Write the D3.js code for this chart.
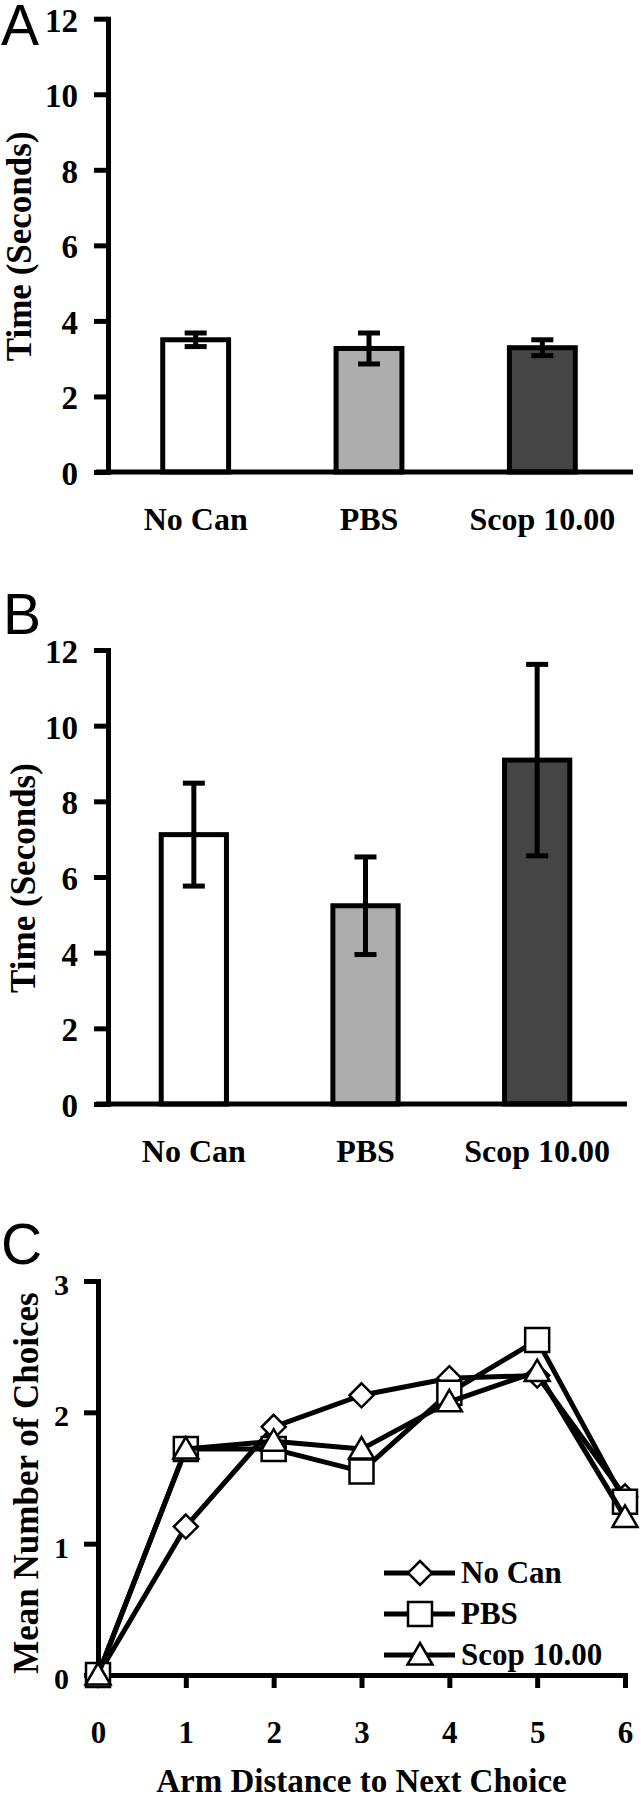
<!DOCTYPE html>
<html>
<head>
<meta charset="utf-8">
<script src="https://cdn.jsdelivr.net/npm/d3@7"></script>
<style>
	body { margin: 0; background: #fff; }
	svg text { font-family: "Liberation Serif", "Times New Roman", serif; font-weight: bold; fill: #000; }
	svg text.panelLetter { font-family: "Liberation Sans", Arial, sans-serif; font-weight: normal; }
</style>
</head>
<body>
<script>

var groups = ["No Can", "PBS", "Scop 10.00"];
var timeA = [3.5, 3.27, 3.29];
var semA = [0.18, 0.41, 0.21];
var timeB = [7.12, 5.24, 9.09];
var semB = [1.36, 1.29, 2.53];
var barTicks = [0, 2, 4, 6, 8, 10, 12];
var barFills = ["#ffffff", "#adadad", "#454545"];

var armDistance = [0, 1, 2, 3, 4, 5, 6];
var noCan = [0, 1.13, 1.89, 2.13, 2.26, 2.28, 1.36];
var pbs = [0, 1.72, 1.72, 1.55, 2.15, 2.55, 1.32];
var scop = [0, 1.72, 1.78, 1.72, 2.08, 2.31, 1.2];
var choiceTicks = [0, 1, 2, 3];
var seriesNames = ["No Can", "PBS", "Scop 10.00"];
var seriesShapes = ["diamond", "square", "triangle"];


var svg = d3.select("body").append("svg")
	.attr("width", 641)
	.attr("height", 1800);


var styleAxis = function(ax, fontSize)
{
	ax.selectAll(".domain")
	.attr("stroke", "#000")
	.attr("stroke-width", 5)
	.attr("stroke-linecap", "square");

	ax.selectAll(".tick line")
	.attr("stroke", "#000")
	.attr("stroke-width", 5);

	ax.selectAll(".tick text")
	.attr("font-size", fontSize)
	.attr("fill", "#000");
}


var barPanel = function(cfg)
{
	var g = svg.append("g");

	var x = d3.scaleBand()
	.domain(groups)
	.range(cfg.xRange)
	.paddingInner(0.62)
	.paddingOuter(0.31);

	var y = d3.scaleLinear()
	.domain([0, 12])
	.range(cfg.yRange);

	var ax = g.append("g")
	.attr("transform", "translate(" + cfg.axisX + ",0)")
	.call(d3.axisLeft(y).tickValues(barTicks).tickSize(14).tickSizeOuter(0).tickPadding(16));
	styleAxis(ax, 33);
	ax.selectAll(".tick text").attr("dy", "0.38em");

	g.selectAll("rect.bar")
	.data(groups)
	.enter().append("rect")
	.attr("class", "bar")
	.attr("x", function(d) { return x(d); })
	.attr("width", x.bandwidth())
	.attr("y", function(d, i) { return y(cfg.values[i]); })
	.attr("height", function(d, i) { return y(0) - y(cfg.values[i]); })
	.attr("fill", function(d, i) { return barFills[i]; })
	.attr("stroke", "#000")
	.attr("stroke-width", 5);

	// error bars drawn over the bars
	var err = g.selectAll("g.err")
	.data(groups)
	.enter().append("g")
	.attr("class", "err")
	.attr("stroke", "#000")
	.attr("stroke-width", 5);

	err.append("line")
	.attr("x1", function(d) { return x(d) + x.bandwidth() / 2; })
	.attr("x2", function(d) { return x(d) + x.bandwidth() / 2; })
	.attr("y1", function(d, i) { return y(cfg.values[i] + cfg.sem[i]); })
	.attr("y2", function(d, i) { return y(cfg.values[i] - cfg.sem[i]); });

	[1, -1].forEach(function(sign)
	{
		err.append("line")
		.attr("x1", function(d) { return x(d) + x.bandwidth() / 2 - 11; })
		.attr("x2", function(d) { return x(d) + x.bandwidth() / 2 + 11; })
		.attr("y1", function(d, i) { return y(cfg.values[i] + sign * cfg.sem[i]); })
		.attr("y2", function(d, i) { return y(cfg.values[i] + sign * cfg.sem[i]); });
	});

	g.append("line")
	.attr("x1", cfg.axisX - 12)
	.attr("x2", cfg.xRange[1] + 4)
	.attr("y1", y(0))
	.attr("y2", y(0))
	.attr("stroke", "#000")
	.attr("stroke-width", 5);

	g.selectAll("text.cat")
	.data(groups)
	.enter().append("text")
	.attr("class", "cat")
	.attr("x", function(d) { return x(d) + x.bandwidth() / 2; })
	.attr("y", y(0) + 58)
	.attr("text-anchor", "middle")
	.attr("font-size", 32)
	.text(function(d) { return d; });

	g.append("text")
	.attr("transform", "translate(" + cfg.titleX + "," + ((y(0) + y(12)) / 2 + 1) + ") rotate(-90)")
	.attr("text-anchor", "middle")
	.attr("font-size", 35)
	.text("Time (Seconds)");

	g.append("text")
	.attr("class", "panelLetter")
	.attr("x", cfg.letter[1])
	.attr("y", cfg.letter[2])
	.attr("font-size", 57)
	.text(cfg.letter[0]);
}


barPanel({ xRange: [109, 629], yRange: [472, 18.7], axisX: 108, values: timeA, sem: semA, titleX: 31, letter: ["A", 1, 45] });
barPanel({ xRange: [108, 623], yRange: [1104, 650], axisX: 108, values: timeB, sem: semB, titleX: 35, letter: ["B", 3, 634] });


// panel C
var markerPath = function(shape)
{
	if (shape == "diamond") return "M0,-12L12,0L0,12L-12,0Z";
	if (shape == "square") return "M-12,-12H12V12H-12Z";
	return "M0,-12L12.5,9.5L-12.5,9.5Z";
}

var gC = svg.append("g");

var xC = d3.scaleLinear().domain([0, 6]).range([98, 625]);
var yC = d3.scaleLinear().domain([0, 3]).range([1675, 1281]);

var axY = gC.append("g")
	.attr("transform", "translate(" + xC(0) + ",0)")
	.call(d3.axisLeft(yC).tickValues(choiceTicks).tickFormat(d3.format("d")).tickSize(14).tickSizeOuter(0).tickPadding(15));
styleAxis(axY, 30);
axY.selectAll(".tick text").attr("dy", "0.45em");

var axX = gC.append("g")
	.attr("transform", "translate(0," + yC(0) + ")")
	.call(d3.axisBottom(xC).tickValues(armDistance).tickFormat(d3.format("d")).tickSize(13).tickSizeOuter(0));
styleAxis(axX, 31);
axX.selectAll(".tick text").attr("y", 68).attr("dy", 0);

gC.append("text")
	.attr("x", (xC(0) + xC(6)) / 2)
	.attr("y", yC(0) + 117)
	.attr("text-anchor", "middle")
	.attr("font-size", 33)
	.text("Arm Distance to Next Choice");

gC.append("text")
	.attr("transform", "translate(38," + ((yC(0) + yC(3)) / 2 + 5) + ") rotate(-90)")
	.attr("text-anchor", "middle")
	.attr("font-size", 35)
	.text("Mean Number of Choices");

gC.append("text")
	.attr("class", "panelLetter")
	.attr("x", 1)
	.attr("y", 1264)
	.attr("font-size", 57)
	.text("C");

var line = d3.line()
	.x(function(d, i) { return xC(armDistance[i]); })
	.y(function(d) { return yC(d); });

[noCan, pbs, scop].forEach(function(values, s)
{
	var sg = gC.append("g");

	sg.append("path")
	.attr("d", line(values))
	.attr("fill", "none")
	.attr("stroke", "#000")
	.attr("stroke-width", 5)
	.attr("stroke-linejoin", "round");

	sg.selectAll("path.mark")
	.data(values)
	.enter().append("path")
	.attr("class", "mark")
	.attr("transform", function(d, i) { return "translate(" + xC(armDistance[i]) + "," + yC(d) + ")"; })
	.attr("d", markerPath(seriesShapes[s]))
	.attr("fill", "#fff")
	.attr("stroke", "#000")
	.attr("stroke-width", 2.5);
});

// legend
var legend = gC.selectAll("g.legend")
	.data(seriesNames)
	.enter().append("g")
	.attr("class", "legend")
	.attr("transform", function(d, i) { return "translate(384," + (1573 + i * 41) + ")"; });

legend.append("line")
	.attr("x1", 0)
	.attr("x2", 71)
	.attr("stroke", "#000")
	.attr("stroke-width", 5);

legend.append("path")
	.attr("transform", "translate(36,0)")
	.attr("d", function(d, i) { return markerPath(seriesShapes[i]); })
	.attr("fill", "#fff")
	.attr("stroke", "#000")
	.attr("stroke-width", 2.5);

legend.append("text")
	.attr("x", 77)
	.attr("y", 10)
	.attr("font-size", 31)
	.text(function(d) { return d; });

</script>
</body>
</html>
